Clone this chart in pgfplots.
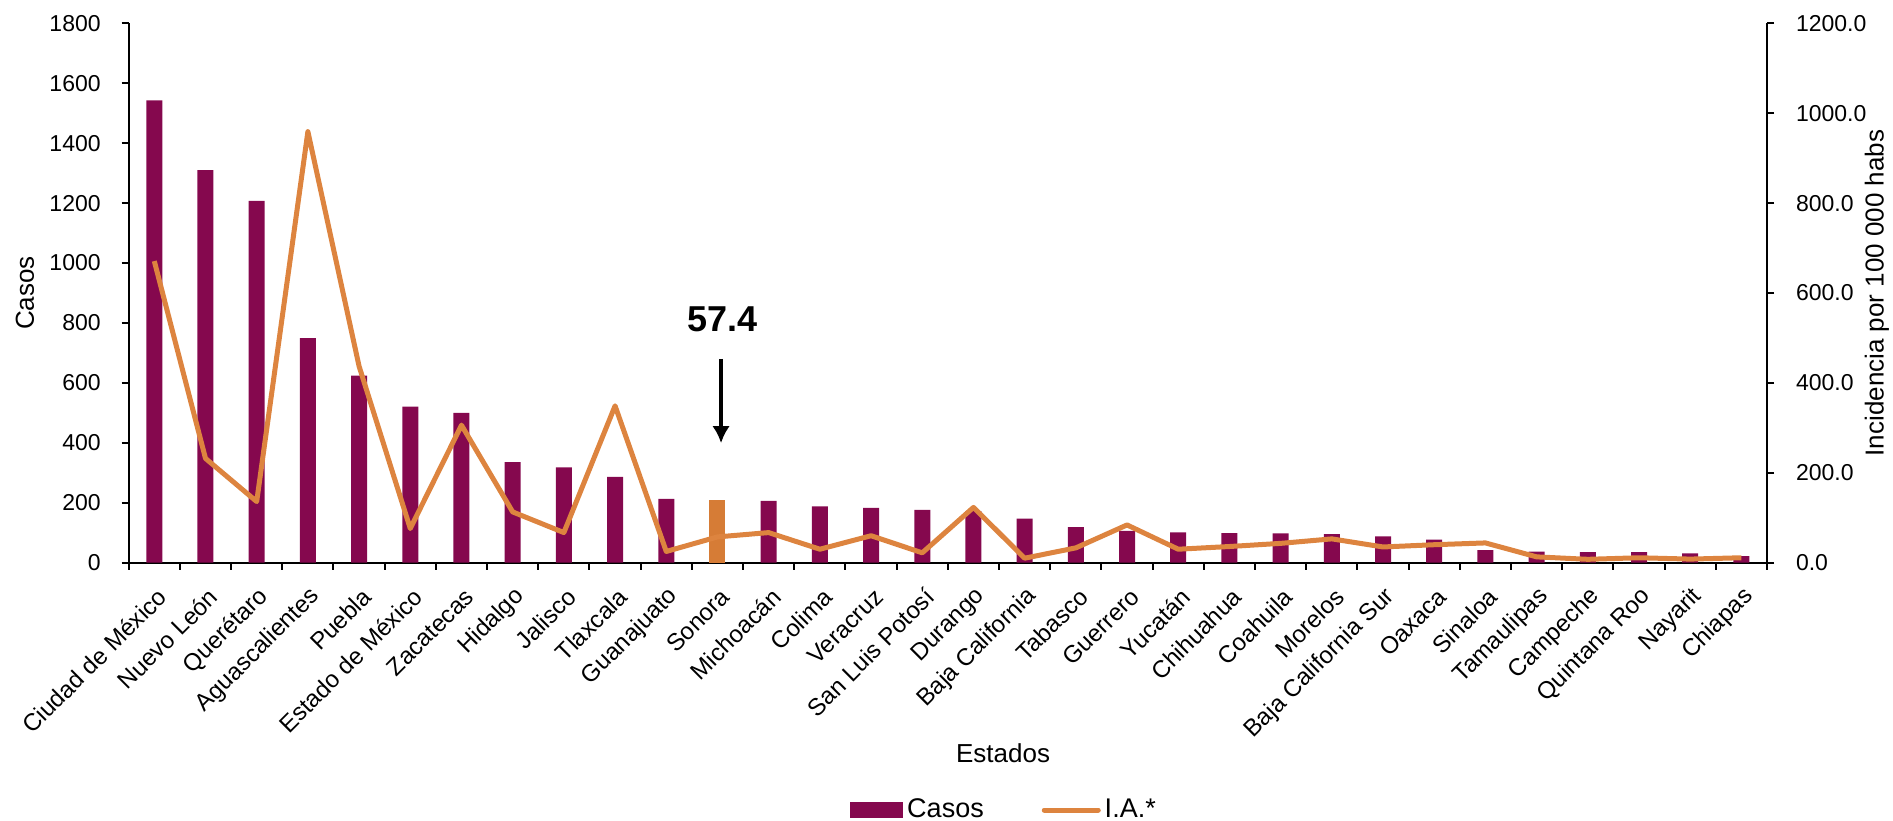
\documentclass[border=0pt]{standalone}
\usepackage{fontspec}
\setmainfont{Liberation Sans}
\usepackage{pgfplots}
\pgfplotsset{compat=1.18}
\usetikzlibrary{arrows.meta}
\definecolor{casos}{RGB}{133,8,78}
\definecolor{ia}{RGB}{221,132,63}
\definecolor{sonora}{RGB}{214,124,54}

\begin{document}
\begin{tikzpicture}
\useasboundingbox (0,0) rectangle (946.5bp,410.5bp);
\pgfplotsset{
  common/.style={
    scale only axis, width=819.15bp, height=269.7bp,
    at={(64.35bp,129.15bp)}, anchor=south west,
    xmin=-0.5, xmax=31.5, enlargelimits=false,
    /pgf/number format/assume math mode=true,
    scaled y ticks=false,
    tick align=outside, major tick length=3.5bp,
    every tick/.style={black, line width=1bp},
    axis line style={black, line width=1bp, -},
    tick label style={font=\fontsize{11.5bp}{13bp}\selectfont},
    label style={font=\fontsize{13bp}{15bp}\selectfont},
  }
}
\begin{axis}[common,
  axis x line*=bottom, axis y line*=left,
  ymin=0, ymax=1800, ytick={0,200,...,1800},
  yticklabel style={/pgf/number format/1000 sep={}, xshift=-7bp},
  xtick={-0.5,0.5,...,31.5}, xticklabels={},
  extra x ticks={0,1,...,31},
  extra x tick labels={Ciudad de México,Nuevo León,Querétaro,Aguascalientes,Puebla,Estado de México,Zacatecas,Hidalgo,Jalisco,Tlaxcala,Guanajuato,Sonora,Michoacán,Colima,Veracruz,San Luis Potosí,Durango,Baja California,Tabasco,Guerrero,Yucatán,Chihuahua,Coahuila,Morelos,Baja California Sur,Oaxaca,Sinaloa,Tamaulipas,Campeche,Quintana Roo,Nayarit,Chiapas},
  extra x tick style={major tick length=0pt,
    xticklabel style={font=\fontsize{12bp}{14bp}\selectfont, inner sep=0pt, anchor=east, xshift=4bp, yshift=-15bp, rotate=45}},
  ylabel={Casos}, ylabel style={at={(axis description cs:-0.0633,0.5)}, anchor=center, font=\fontsize{13bp}{15bp}\selectfont},
  xlabel={Estados}, xlabel style={at={(axis description cs:0.5337,-0.3528)}, anchor=center, font=\fontsize{13bp}{15bp}\selectfont},
]
\addplot[ybar, bar width=8bp, bar shift=0pt, fill=casos, draw=none] coordinates {
(0,1543) (1,1310) (2,1207) (3,749) (4,624) (5,521) (6,500) (7,336) (8,318) (9,286)
(10,213) (12,206) (13,188) (14,183) (15,176) (16,172) (17,147) (18,119) (19,106)
(20,101) (21,99) (22,98) (23,95) (24,88) (25,77) (26,42) (27,37) (28,35) (29,35) (30,31) (31,22)};
\addplot[ybar, bar width=8bp, bar shift=0pt, fill=sonora, draw=none] coordinates {(11,209)};
\node[font=\bfseries\fontsize{18bp}{20bp}\selectfont] at (axis cs:11.107,813) {57.4};
\draw[-{Latex[length=8.5bp,width=8.8bp]}, line width=2.4bp] (axis cs:11.07,680) -- (axis cs:11.07,399);
\end{axis}
\begin{axis}[common,
  axis x line=none, axis y line*=right, xtick=\empty,
  ymin=0, ymax=1200, ytick={0,200,...,1200},
  yticklabel style={/pgf/number format/fixed, /pgf/number format/fixed zerofill, /pgf/number format/precision=1, /pgf/number format/1000 sep={}, xshift=7.5bp},
  ylabel={Incidencia por 100 000 habs}, ylabel style={at={(axis description cs:1.0671,0.5)}, anchor=center, font=\fontsize{13bp}{15bp}\selectfont},
  legend columns=2,
  legend style={draw=none, fill=none, inner sep=0pt, at={(axis description cs:0.4403,-0.4585)}, anchor=west,
    font=\fontsize{13.5bp}{15bp}\selectfont, /tikz/every even column/.append style={column sep=27bp}},
]
\addlegendimage{legend image code/.code={\fill[casos] (0bp,-3.75bp) rectangle (26bp,3.75bp);}}
\addlegendentry{Casos}
\addplot[ia, line width=2.5bp, line join=round, mark=none,
  legend image code/.code={\draw[ia, line width=2.5bp, line cap=round] (0bp,0bp) -- (27bp,0bp);}] coordinates {
(0,671) (1,232) (2,136) (3,959) (4,437) (5,76) (6,306) (7,113) (8,67) (9,349)
(10,25) (11,57.4) (12,67) (13,30) (14,60) (15,22) (16,123) (17,10) (18,33) (19,84)
(20,30) (21,36) (22,43) (23,53) (24,35) (25,40) (26,44) (27,13) (28,7.5) (29,11) (30,8) (31,11)};
\addlegendentry{I.A.*}
\end{axis}
\end{tikzpicture}
\end{document}
